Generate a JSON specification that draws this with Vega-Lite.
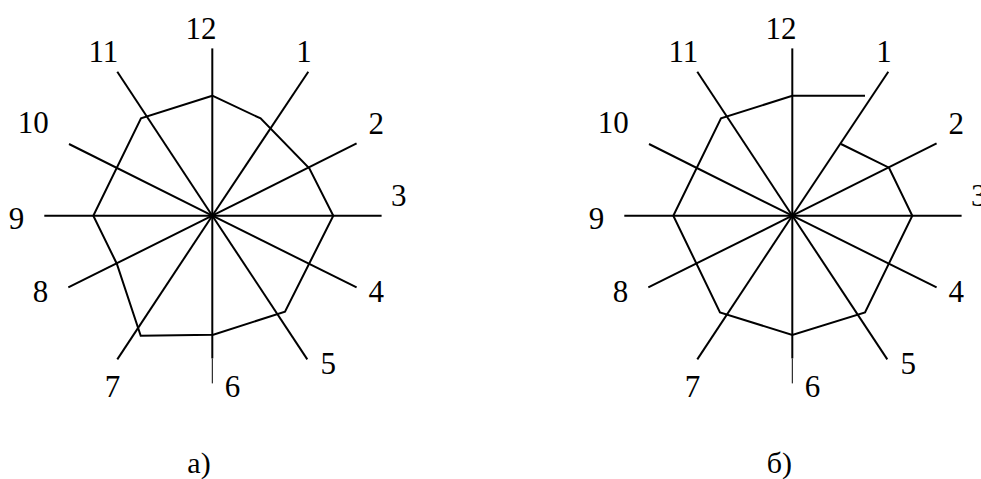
{
  "$schema": "https://vega.github.io/schema/vega-lite/v6.json",
  "background": "white",
  "padding": 0,
  "spacing": 173,
  "config": {"view": {"stroke": null}},
  "datasets": {
    "spokes": [
      {"s": 12, "x": 0, "y": 16.73},
      {"s": 1, "x": 9.6, "y": 14.4},
      {"s": 2, "x": 14.43, "y": 7.23},
      {"s": 3, "x": 16.93, "y": 0},
      {"s": 4, "x": 14.43, "y": -7.17},
      {"s": 5, "x": 9.5, "y": -14.37},
      {"s": 6, "x": 0, "y": -14.27},
      {"s": 7, "x": -9.5, "y": -14.37},
      {"s": 8, "x": -14.4, "y": -7.17},
      {"s": 9, "x": -16.8, "y": 0},
      {"s": 10, "x": -14.33, "y": 7.17},
      {"s": 11, "x": -9.5, "y": 14.4}
    ],
    "tail": [{"x": 0, "y": -14.27, "y2": -16.77}],
    "center": [{"x": 0, "y": 0}],
    "labels": [
      {"t": "12", "x": -1.13, "y": 18.6},
      {"t": "1", "x": 9.17, "y": 16.23},
      {"t": "2", "x": 16.4, "y": 9.07},
      {"t": "3", "x": 18.65, "y": 1.85},
      {"t": "4", "x": 16.4, "y": -7.77},
      {"t": "5", "x": 11.6, "y": -14.93},
      {"t": "6", "x": 2.03, "y": -17.27},
      {"t": "7", "x": -9.97, "y": -17.27},
      {"t": "8", "x": -17.17, "y": -7.7},
      {"t": "9", "x": -19.57, "y": -0.43},
      {"t": "10", "x": -17.9, "y": 9.17},
      {"t": "11", "x": -10.9, "y": 16.23}
    ],
    "polyA": [
      {"i": 0, "x": 0, "y": 12},
      {"i": 1, "x": 4.83, "y": 9.73},
      {"i": 2, "x": 9.7, "y": 4.73},
      {"i": 3, "x": 12.1, "y": 0},
      {"i": 4, "x": 7.27, "y": -9.6},
      {"i": 5, "x": 0.1, "y": -11.9},
      {"i": 6, "x": -7.16, "y": -12},
      {"i": 7, "x": -9.55, "y": -4.8},
      {"i": 8, "x": -11.9, "y": 0},
      {"i": 9, "x": -7.13, "y": 9.73},
      {"i": 10, "x": 0, "y": 12}
    ],
    "polyB": [
      {"i": 0, "x": 7.27, "y": 12},
      {"i": 1, "x": 0, "y": 12},
      {"i": 2, "x": -7.13, "y": 9.73},
      {"i": 3, "x": -11.9, "y": 0},
      {"i": 4, "x": -7.23, "y": -9.67},
      {"i": 5, "x": 0, "y": -11.93},
      {"i": 6, "x": 7.27, "y": -9.67},
      {"i": 7, "x": 12, "y": 0},
      {"i": 8, "x": 9.67, "y": 4.8},
      {"i": 9, "x": 4.87, "y": 7.17}
    ],
    "captionA": [{"t": "а)", "x": -1.33, "y": -24.78}],
    "captionB": [{"t": "б)", "x": -1.3, "y": -24.78}]
  },
  "hconcat": [
    {
      "width": 404,
      "height": 479,
      "layer": [
        {
          "data": {"name": "spokes"},
          "mark": {"type": "rule", "color": "black", "strokeWidth": 2},
          "encoding": {
            "x": {"field": "x", "type": "quantitative", "scale": {"domain": [-21.23, 19.17], "nice": false, "zero": false}, "axis": null},
            "y": {"field": "y", "type": "quantitative", "scale": {"domain": [-26.33, 21.57], "nice": false, "zero": false}, "axis": null},
            "x2": {"datum": 0},
            "y2": {"datum": 0}
          }
        },
        {
          "data": {"name": "tail"},
          "mark": {"type": "rule", "color": "black", "strokeWidth": 1},
          "encoding": {
            "x": {"field": "x", "type": "quantitative", "scale": {"domain": [-21.23, 19.17], "nice": false, "zero": false}, "axis": null},
            "y": {"field": "y", "type": "quantitative", "scale": {"domain": [-26.33, 21.57], "nice": false, "zero": false}, "axis": null},
            "y2": {"field": "y2"}
          }
        },
        {
          "data": {"name": "polyA"},
          "mark": {"type": "line", "color": "black", "strokeWidth": 2, "strokeJoin": "miter"},
          "encoding": {
            "x": {"field": "x", "type": "quantitative", "scale": {"domain": [-21.23, 19.17], "nice": false, "zero": false}, "axis": null},
            "y": {"field": "y", "type": "quantitative", "scale": {"domain": [-26.33, 21.57], "nice": false, "zero": false}, "axis": null},
            "order": {"field": "i", "type": "quantitative"}
          }
        },
        {
          "data": {"name": "center"},
          "mark": {"type": "circle", "color": "black", "size": 20, "opacity": 1},
          "encoding": {
            "x": {"field": "x", "type": "quantitative", "scale": {"domain": [-21.23, 19.17], "nice": false, "zero": false}, "axis": null},
            "y": {"field": "y", "type": "quantitative", "scale": {"domain": [-26.33, 21.57], "nice": false, "zero": false}, "axis": null}
          }
        },
        {
          "data": {"name": "labels"},
          "mark": {"type": "text", "font": "Liberation Serif", "fontSize": 31, "color": "black", "align": "center", "baseline": "middle"},
          "encoding": {
            "x": {"field": "x", "type": "quantitative", "scale": {"domain": [-21.23, 19.17], "nice": false, "zero": false}, "axis": null},
            "y": {"field": "y", "type": "quantitative", "scale": {"domain": [-26.33, 21.57], "nice": false, "zero": false}, "axis": null},
            "text": {"field": "t"}
          }
        },
        {
          "data": {"name": "captionA"},
          "mark": {"type": "text", "font": "Liberation Serif", "fontSize": 30, "color": "black", "align": "center", "baseline": "middle"},
          "encoding": {
            "x": {"field": "x", "type": "quantitative", "scale": {"domain": [-21.23, 19.17], "nice": false, "zero": false}, "axis": null},
            "y": {"field": "y", "type": "quantitative", "scale": {"domain": [-26.33, 21.57], "nice": false, "zero": false}, "axis": null},
            "text": {"field": "t"}
          }
        }
      ]
    },
    {
      "width": 404,
      "height": 479,
      "layer": [
        {
          "data": {"name": "spokes"},
          "mark": {"type": "rule", "color": "black", "strokeWidth": 2},
          "encoding": {
            "x": {"field": "x", "type": "quantitative", "scale": {"domain": [-21.23, 19.17], "nice": false, "zero": false}, "axis": null},
            "y": {"field": "y", "type": "quantitative", "scale": {"domain": [-26.33, 21.57], "nice": false, "zero": false}, "axis": null},
            "x2": {"datum": 0},
            "y2": {"datum": 0}
          }
        },
        {
          "data": {"name": "tail"},
          "mark": {"type": "rule", "color": "black", "strokeWidth": 1},
          "encoding": {
            "x": {"field": "x", "type": "quantitative", "scale": {"domain": [-21.23, 19.17], "nice": false, "zero": false}, "axis": null},
            "y": {"field": "y", "type": "quantitative", "scale": {"domain": [-26.33, 21.57], "nice": false, "zero": false}, "axis": null},
            "y2": {"field": "y2"}
          }
        },
        {
          "data": {"name": "polyB"},
          "mark": {"type": "line", "color": "black", "strokeWidth": 2, "strokeJoin": "miter"},
          "encoding": {
            "x": {"field": "x", "type": "quantitative", "scale": {"domain": [-21.23, 19.17], "nice": false, "zero": false}, "axis": null},
            "y": {"field": "y", "type": "quantitative", "scale": {"domain": [-26.33, 21.57], "nice": false, "zero": false}, "axis": null},
            "order": {"field": "i", "type": "quantitative"}
          }
        },
        {
          "data": {"name": "center"},
          "mark": {"type": "circle", "color": "black", "size": 20, "opacity": 1},
          "encoding": {
            "x": {"field": "x", "type": "quantitative", "scale": {"domain": [-21.23, 19.17], "nice": false, "zero": false}, "axis": null},
            "y": {"field": "y", "type": "quantitative", "scale": {"domain": [-26.33, 21.57], "nice": false, "zero": false}, "axis": null}
          }
        },
        {
          "data": {"name": "labels"},
          "mark": {"type": "text", "font": "Liberation Serif", "fontSize": 31, "color": "black", "align": "center", "baseline": "middle"},
          "encoding": {
            "x": {"field": "x", "type": "quantitative", "scale": {"domain": [-21.23, 19.17], "nice": false, "zero": false}, "axis": null},
            "y": {"field": "y", "type": "quantitative", "scale": {"domain": [-26.33, 21.57], "nice": false, "zero": false}, "axis": null},
            "text": {"field": "t"}
          }
        },
        {
          "data": {"name": "captionB"},
          "mark": {"type": "text", "font": "Liberation Serif", "fontSize": 30, "color": "black", "align": "center", "baseline": "middle"},
          "encoding": {
            "x": {"field": "x", "type": "quantitative", "scale": {"domain": [-21.23, 19.17], "nice": false, "zero": false}, "axis": null},
            "y": {"field": "y", "type": "quantitative", "scale": {"domain": [-26.33, 21.57], "nice": false, "zero": false}, "axis": null},
            "text": {"field": "t"}
          }
        }
      ]
    }
  ]
}
